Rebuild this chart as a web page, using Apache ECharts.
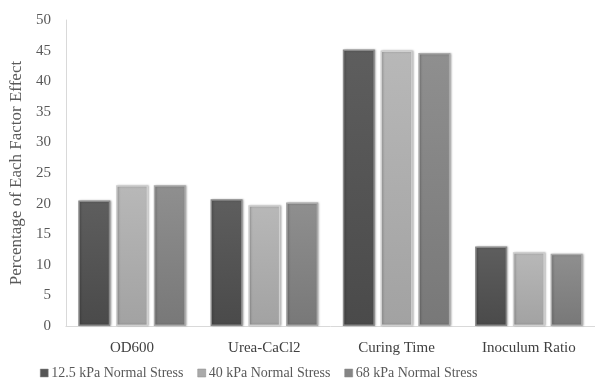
<!DOCTYPE html>
<html>
<head>
<meta charset="utf-8">
<script src="https://cdn.jsdelivr.net/npm/echarts@6/dist/echarts.min.js"></script>
<style>html,body{margin:0;padding:0;background:#fff}#c{width:595px;height:385px}</style>
</head>
<body>
<div id="c"></div>
<script>
const categories = ['OD600', 'Urea-CaCl2', 'Curing Time', 'Inoculum Ratio'];
const seriesNames = ['12.5 kPa Normal Stress', '40 kPa Normal Stress', '68 kPa Normal Stress'];
const s12_5 = [20.5, 20.7, 45.2, 13.0];
const s40 = [23.0, 19.75, 45.0, 12.05];
const s68 = [23.0, 20.2, 44.6, 11.8];
const yTicks = [0, 50, 5];

const font = 'Liberation Serif, Times New Roman, serif';
function grad(top, bottom) {
  return new echarts.graphic.LinearGradient(0, 0, 0, 1, [
    {offset: 0, color: top}, {offset: 1, color: bottom}
  ]);
}
const colors = [
  {fill: grad('#5e5e5e', '#4a4a4a'), border: '#8a8a8a', icon: '#555'},
  {fill: grad('#b8b8b8', '#a2a2a2'), border: '#d0d0d0', icon: '#aaa'},
  {fill: grad('#8f8f8f', '#787878'), border: '#aaaaaa', icon: '#858585'}
];
const data = [s12_5, s40, s68];
const chart = echarts.init(document.getElementById('c'), null, {renderer: 'canvas'});
chart.setOption({
  animation: false,
  grid: {left: 63, top: 20, width: 540, bottom: 59, containLabel: false},
  legend: {
    bottom: 0, left: 35,
    itemWidth: 8, itemHeight: 8, itemGap: 14,
    textStyle: {fontFamily: font, fontSize: 14, color: '#595959', padding: [0, 0, 0, -2]},
    data: seriesNames.map((n, i) => ({name: n, icon: 'rect', itemStyle: {color: colors[i].icon, borderColor: '#888', borderWidth: 0.5}}))
  },
  xAxis: {
    type: 'category', data: categories,
    axisLine: {lineStyle: {color: '#d9d9d9', width: 1}},
    axisTick: {show: false},
    axisLabel: {fontFamily: font, fontSize: 15, color: '#404040', margin: 15}
  },
  yAxis: {
    type: 'value', min: yTicks[0], max: yTicks[1], interval: yTicks[2],
    name: 'Percentage of Each Factor Effect', nameLocation: 'middle', nameGap: 35,
    nameTextStyle: {fontFamily: font, fontSize: 17, color: '#595959'},
    axisLine: {show: true, lineStyle: {color: '#d9d9d9', width: 1}},
    axisTick: {show: false},
    splitLine: {show: false},
    axisLabel: {fontFamily: font, fontSize: 15, color: '#595959', margin: 15}
  },
  series: seriesNames.map((n, i) => ({
    name: n, type: 'bar', data: data[i], barWidth: 32, barGap: '18%',
    itemStyle: {color: colors[i].fill, borderColor: colors[i].border, borderWidth: 1.5,
      shadowColor: 'rgba(0,0,0,0.25)', shadowBlur: 2, shadowOffsetX: 1}
  }))
});
</script>
</body>
</html>
